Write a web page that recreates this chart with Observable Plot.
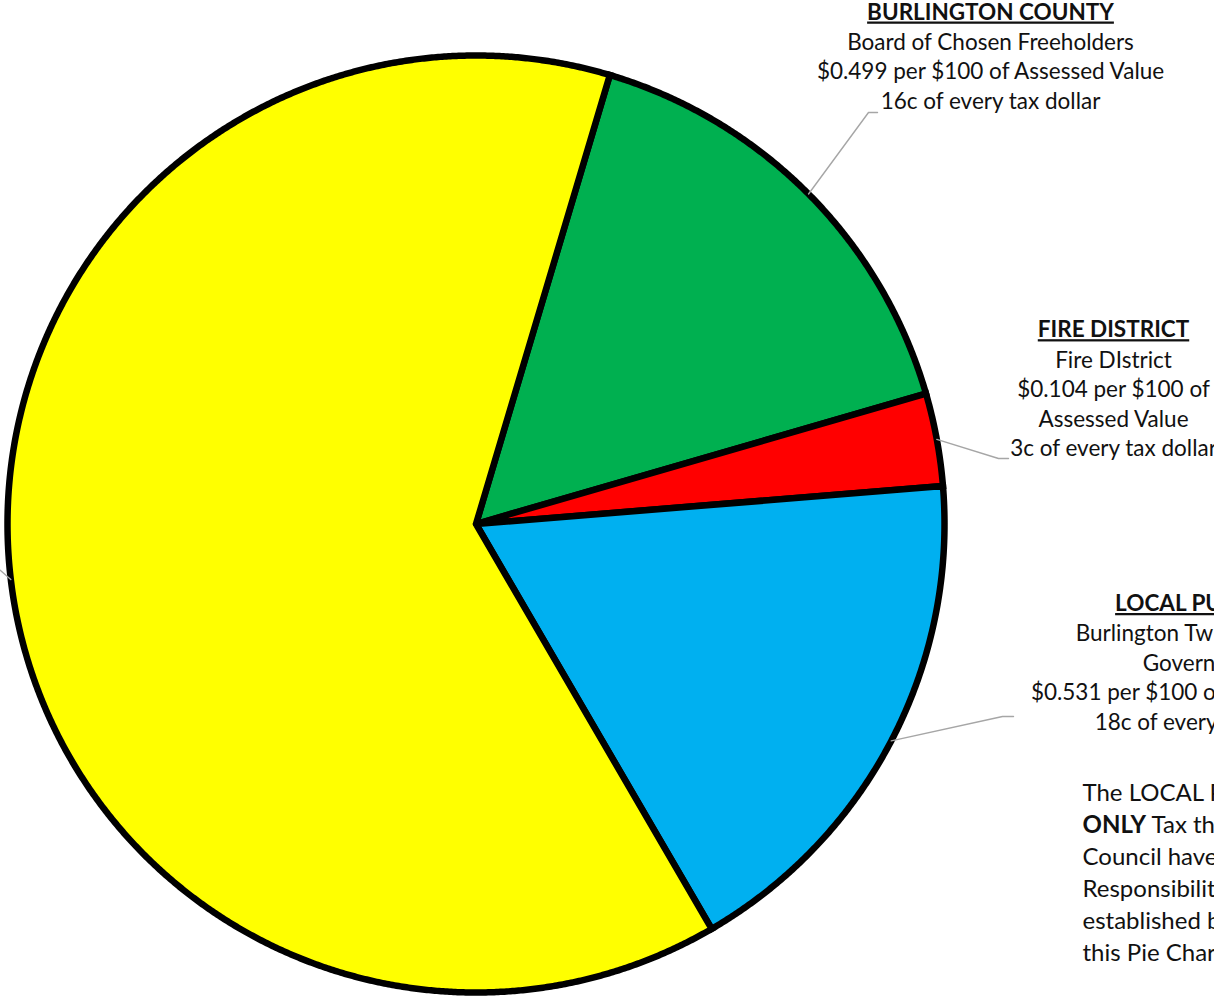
<!DOCTYPE html>
<html><head><meta charset="utf-8">
<script src="https://cdn.jsdelivr.net/npm/d3@7"></script>
<script src="https://cdn.jsdelivr.net/npm/@observablehq/plot@0.6"></script>
<style>
html,body{margin:0;padding:0;background:#fff;overflow:hidden;}
#chart svg{display:block;}
</style></head><body><div id="chart"></div>
<script>
// ---- data ----
const categories = ["BURLINGTON COUNTY", "FIRE DISTRICT", "LOCAL PURPOSE", "SCHOOL"];
const shares = [15.9, 3.2, 17.9, 63.0];          // share of every tax dollar (slice sizes)
const centsLabels = ["16c", "3c", "18c", "63c"];
const rateLabels = ["$0.499", "$0.104", "$0.531", ""];
const countyLines = ["Board of Chosen Freeholders", "$0.499 per $100 of Assessed Value", "16c of every tax dollar"];
const fireLines = ["Fire DIstrict", "$0.104 per $100 of", "Assessed Value", "3c of every tax dollar"];
const localLines = ["Burlington Twp. Municipal", "Government", "$0.531 per $100 of Assessed Value", "18c of every tax dollar"];
const noteLines = ["The LOCAL PURPOSE Tax is the", "ONLY Tax the Mayor and", "Council have Control over and", "Responsibility for, as", "established by the State in", "this Pie Chart."];

// ---- styles / layout ----
const sliceColors = ["#00B050", "#FF0000", "#00B0F0", "#FFFF00"];
const CX = 475.5, CY = 523.5, R = 468.5;
const X = px => (px - CX) / R;
const Y = py => (CY - py) / R;
const startDeg = 16.6;
const FONT = "Lato, 'Open Sans', sans-serif";
const FS = 22.5, NFS = 24;

const arcs = d3.pie().sort(null).value(d => d)
  .startAngle(startDeg * Math.PI / 180)
  .endAngle((startDeg + 360) * Math.PI / 180)(shares);

const step = 0.25 * Math.PI / 180;
const slices = arcs.map((a, i) => {
  const pts = [{x: 0, y: 0}];
  const n = Math.max(2, Math.ceil((a.endAngle - a.startAngle) / step));
  for (let k = 0; k <= n; k++) {
    const t = a.startAngle + (a.endAngle - a.startAngle) * k / n;
    pts.push({x: Math.sin(t), y: Math.cos(t)});
  }
  pts.push({x: 0, y: 0});
  return {pts, color: sliceColors[i], mid: (a.startAngle + a.endAngle) / 2};
});

// leader lines: from slice mid-angle on the rim to the label
const leaderEnds = [
  [[868, 112], [877, 112]],
  [[998, 458], [1008, 458]],
  [[1002, 716], [1013, 716]],
  [[0, 570], [-14, 561]]
];
const leaders = [];
slices.forEach((s, i) => {
  leaders.push({k: i, x: Math.sin(s.mid), y: Math.cos(s.mid)});
  leaderEnds[i].forEach(([px, py]) => leaders.push({k: i, x: X(px), y: Y(py)}));
});

// label text rows
const heads = [
  {text: categories[0], x: X(990), y: Y(19 - 0.32 * FS)},
  {text: categories[1], x: X(1113), y: Y(336.7 - 0.32 * FS)},
  {text: categories[2], x: X(1204), y: Y(610.5 - 0.32 * FS)}
];
const body = [];
countyLines.forEach((t, j) => body.push({text: t, x: X(990), y: Y(49.3 + j * 29.5 - 0.32 * FS)}));
fireLines.forEach((t, j) => body.push({text: t, x: X(1113), y: Y(367 + j * 29.5 - 0.32 * FS)}));
localLines.forEach((t, j) => body.push({text: t, x: X(1204), y: Y(640.5 + j * 29.5 - 0.32 * FS)}));
const note = noteLines.map((t, j) => ({text: t, x: X(1082), y: Y(793 + j * 32)}));

const marks = [];
slices.forEach(s => marks.push(Plot.line(s.pts, {
  x: "x", y: "y", fill: s.color, stroke: "#000", strokeWidth: 6.5,
  strokeLinejoin: "miter", strokeMiterlimit: 4
})));
marks.push(Plot.line(leaders, {x: "x", y: "y", z: "k", stroke: "#a6a6a6", strokeWidth: 1.4, strokeLinejoin: "miter"}));
marks.push(Plot.text(heads, {x: "x", y: "y", text: "text", fontSize: FS, fontWeight: "bold", fontFamily: FONT, fill: "#111"}));
marks.push(Plot.text(body, {x: "x", y: "y", text: "text", fontSize: FS, fontFamily: FONT, fill: "#111"}));
marks.push(Plot.text(note, {x: "x", y: "y", text: "text", fontSize: NFS, fontFamily: FONT, fill: "#111", textAnchor: "start"}));

const chart = Plot.plot({
  width: 1214, height: 996,
  margin: 0,
  x: {domain: [-1, 1], range: [CX - R, CX + R], axis: null},
  y: {domain: [-1, 1], range: [CY + R, CY - R], axis: null},
  style: {background: "#fff", overflow: "hidden"},
  marks
});
chart.querySelectorAll("text").forEach(t => {
  const s = t.textContent;
  if (categories.includes(s)) {
    t.setAttribute("text-decoration", "underline");
    t.style.textDecoration = "underline";
  }
  if (s.startsWith("ONLY ")) {
    t.textContent = "";
    const b = document.createElementNS("http://www.w3.org/2000/svg", "tspan");
    b.setAttribute("font-weight", "bold");
    b.textContent = "ONLY";
    const r = document.createElementNS("http://www.w3.org/2000/svg", "tspan");
    r.textContent = s.slice(4);
    t.appendChild(b); t.appendChild(r);
  }
});
document.getElementById("chart").appendChild(chart);
</script>
</body></html>
